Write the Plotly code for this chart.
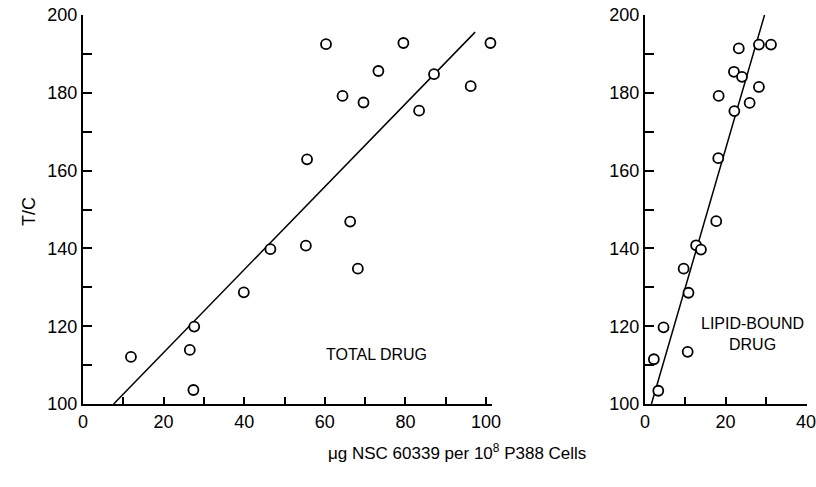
import plotly.graph_objects as go

# ---- data ----
tc_total = [112.1, 113.9, 119.9, 103.6, 128.7, 139.8, 192.5, 192.8, 192.8, 185.6,
            184.8, 181.7, 179.2, 177.5, 175.4, 162.9, 146.9, 140.7, 134.8]
drug_total = [11.9, 26.5, 27.6, 27.4, 39.9, 46.5, 60.3, 79.5, 101.1, 73.3,
              87.1, 96.2, 64.4, 69.6, 83.4, 55.6, 66.3, 55.3, 68.2]

tc_lipid = [191.4, 192.4, 192.4, 185.4, 184.1, 181.5, 179.2, 177.4, 175.3, 163.2,
            147.0, 140.8, 139.7, 134.8, 128.6, 119.7, 111.5, 113.4, 103.4]
drug_lipid = [23.3, 28.3, 31.3, 22.1, 24.1, 28.3, 18.3, 26.0, 22.2, 18.2,
              17.7, 12.7, 13.9, 9.6, 10.8, 4.6, 2.2, 10.6, 3.3]

fit_total_x = [7.6, 97.3]
fit_total_y = [100, 195.6]
fit_lipid_x = [1.6, 29.7]
fit_lipid_y = [100, 200]

y_tickvals = [100, 120, 140, 160, 180, 200]
x1_tickvals = [0, 20, 40, 60, 80, 100]
x2_tickvals = [0, 20, 40]
minor_step = 10

W, H = 816, 487
FONT = "Liberation Sans, Arial, sans-serif"

# pixel geometry of the panels
X1_0, X1_PX = 83, 4.03      # left panel: x=0 at px 83, px per unit
X2_0, X2_PX = 645, 4.025    # right panel
x1_max, x2_max = 101.4, 40.2

marker = dict(symbol="circle", size=10, color="white", line=dict(color="black", width=1.8))
fig = go.Figure()
fig.add_trace(go.Scatter(x=fit_total_x, y=fit_total_y, mode="lines",
                         line=dict(color="black", width=1.5), xaxis="x", yaxis="y", showlegend=False))
fig.add_trace(go.Scatter(x=drug_total, y=tc_total, mode="markers", marker=marker,
                         xaxis="x", yaxis="y", showlegend=False, cliponaxis=False))
fig.add_trace(go.Scatter(x=fit_lipid_x, y=fit_lipid_y, mode="lines",
                         line=dict(color="black", width=1.5), xaxis="x2", yaxis="y2", showlegend=False))
fig.add_trace(go.Scatter(x=drug_lipid, y=tc_lipid, mode="markers", marker=marker,
                         xaxis="x2", yaxis="y2", showlegend=False, cliponaxis=False))

ydom = [1 - 404 / H, 1 - 15 / H]
common = dict(showgrid=False, zeroline=False, showline=True, linecolor="black", linewidth=2,
              ticks="inside", tickcolor="black", tickwidth=1.5, automargin=False,
              ticklabeloverflow="allow",
              tickfont=dict(family=FONT, size=18, color="black"), tickmode="array")


def minor(length):
    return dict(dtick=minor_step, tick0=0, ticks="inside", ticklen=length,
                tickcolor="black", tickwidth=1.5, showgrid=False)


fig.update_layout(
    width=W, height=H, template="none",
    paper_bgcolor="white", plot_bgcolor="white",
    margin=dict(l=0, r=0, t=0, b=0),
    xaxis=dict(domain=[X1_0 / W, (X1_0 + x1_max * X1_PX) / W], range=[0, x1_max], anchor="y",
               tickvals=x1_tickvals, ticklen=7, minor=minor(7), **common),
    yaxis=dict(domain=ydom, range=[100, 200], anchor="x",
               tickvals=y_tickvals, ticklen=9, minor=minor(9), **common),
    xaxis2=dict(domain=[X2_0 / W, (X2_0 + x2_max * X2_PX) / W], range=[0, x2_max], anchor="y2",
                tickvals=x2_tickvals, ticklen=7, minor=minor(7), **common),
    yaxis2=dict(domain=ydom, range=[100, 200], anchor="x2",
                tickvals=y_tickvals, ticklen=9, minor=minor(9), **common),
    annotations=[
        dict(text="TOTAL DRUG", x=72.8, y=112.6, xref="x", yref="y", showarrow=False,
             font=dict(family=FONT, size=16, color="black")),
        dict(text="LIPID-BOUND<br>DRUG", x=26.8, y=117.9, xref="x2", yref="y2", showarrow=False,
             font=dict(family=FONT, size=16, color="black")),
        dict(text="T/C", x=17 / W, y=1 - 212 / H, xref="paper", yref="paper", showarrow=False,
             textangle=-90, font=dict(family=FONT, size=18, color="black")),
        dict(text="μg NSC 60339 per 10<sup>8</sup> P388 Cells", x=457 / W, y=1 - 465 / H,
             xref="paper", yref="paper", showarrow=False,
             font=dict(family=FONT, size=17, color="black")),
    ],
)

fig.write_html("out.html", config={"displayModeBar": False},
               post_script="document.body.style.margin='0px';")
